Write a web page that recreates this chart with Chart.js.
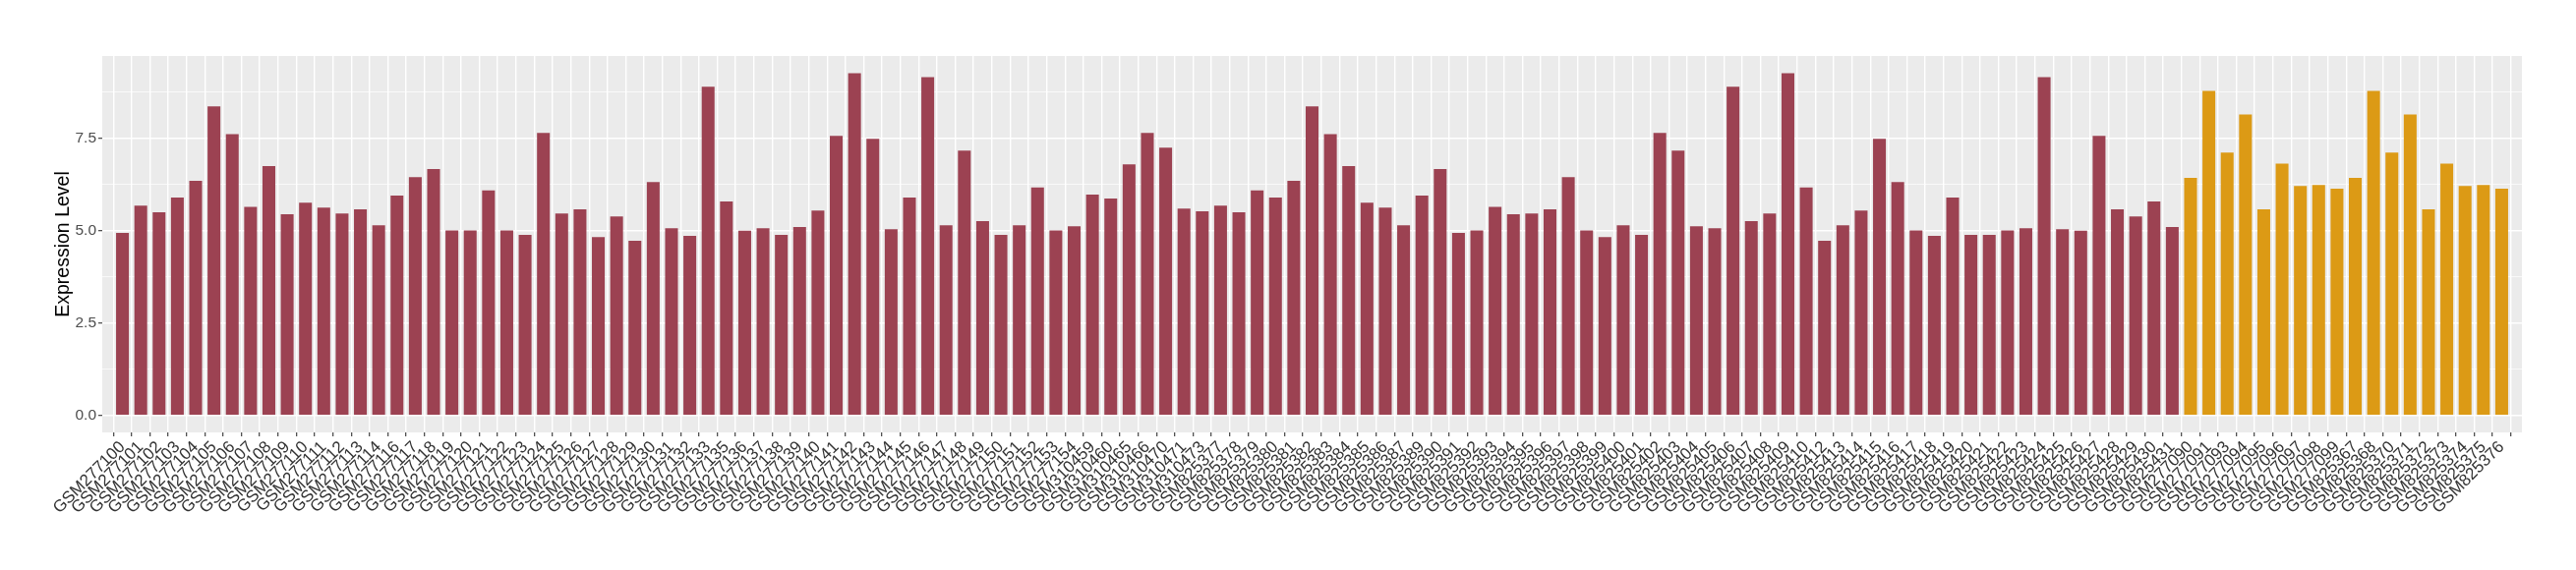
<!DOCTYPE html>
<html>
<head>
<meta charset="utf-8">
<script src="https://cdn.jsdelivr.net/npm/chart.js@4.4.0/dist/chart.umd.min.js"></script>
<style>
  html, body { margin: 0; padding: 0; background: #ffffff; }
  canvas { display: block; }
</style>
</head>
<body>
<canvas id="exprChart" width="2620" height="580"></canvas>
<script>
// sample ids, in plotting order
const samples = [
  'GSM277100', 'GSM277101', 'GSM277102', 'GSM277103', 'GSM277104', 'GSM277105', 'GSM277106', 'GSM277107',
  'GSM277108', 'GSM277109', 'GSM277110', 'GSM277111', 'GSM277112', 'GSM277113', 'GSM277114', 'GSM277116',
  'GSM277117', 'GSM277118', 'GSM277119', 'GSM277120', 'GSM277121', 'GSM277122', 'GSM277123', 'GSM277124',
  'GSM277125', 'GSM277126', 'GSM277127', 'GSM277128', 'GSM277129', 'GSM277130', 'GSM277131', 'GSM277132',
  'GSM277133', 'GSM277135', 'GSM277136', 'GSM277137', 'GSM277138', 'GSM277139', 'GSM277140', 'GSM277141',
  'GSM277142', 'GSM277143', 'GSM277144', 'GSM277145', 'GSM277146', 'GSM277147', 'GSM277148', 'GSM277149',
  'GSM277150', 'GSM277151', 'GSM277152', 'GSM277153', 'GSM277154',
  'GSM310459', 'GSM310460', 'GSM310465', 'GSM310466', 'GSM310470', 'GSM310471', 'GSM310473',
  'GSM825377', 'GSM825378', 'GSM825379', 'GSM825380', 'GSM825381', 'GSM825382', 'GSM825383', 'GSM825384',
  'GSM825385', 'GSM825386', 'GSM825387', 'GSM825389', 'GSM825390', 'GSM825391', 'GSM825392', 'GSM825393',
  'GSM825394', 'GSM825395', 'GSM825396', 'GSM825397', 'GSM825398', 'GSM825399', 'GSM825400', 'GSM825401',
  'GSM825402', 'GSM825403', 'GSM825404', 'GSM825405', 'GSM825406', 'GSM825407', 'GSM825408', 'GSM825409',
  'GSM825410', 'GSM825412', 'GSM825413', 'GSM825414', 'GSM825415', 'GSM825416', 'GSM825417', 'GSM825418',
  'GSM825419', 'GSM825420', 'GSM825421', 'GSM825422', 'GSM825423', 'GSM825424', 'GSM825425', 'GSM825426',
  'GSM825427', 'GSM825428', 'GSM825429', 'GSM825430', 'GSM825431',
  'GSM277090', 'GSM277091', 'GSM277093', 'GSM277094', 'GSM277095', 'GSM277096', 'GSM277097', 'GSM277098',
  'GSM277099',
  'GSM825367', 'GSM825368', 'GSM825370', 'GSM825371', 'GSM825372', 'GSM825373', 'GSM825374', 'GSM825375',
  'GSM825376'
];

const expression = [
  4.94, 5.68, 5.50, 5.90, 6.35, 8.37, 7.62, 5.65,
  6.75, 5.45, 5.76, 5.63, 5.47, 5.58, 5.15, 5.95,
  6.45, 6.67, 5.01, 5.01, 6.09, 5.01, 4.89, 7.65,
  5.47, 5.58, 4.83, 5.39, 4.73, 6.32, 5.07, 4.86,
  8.90, 5.79, 5.00, 5.07, 4.89, 5.10, 5.55, 7.57,
  9.27, 7.49, 5.04, 5.90, 9.16, 5.15, 7.17, 5.26,
  4.89, 5.15, 6.17, 5.01, 5.12,
  5.98, 5.87, 6.80, 7.65, 7.25, 5.60, 5.53,
  5.68, 5.50, 6.09, 5.90, 6.35, 8.37, 7.62, 6.75,
  5.76, 5.63, 5.15, 5.95, 6.67, 4.94, 5.01, 5.65,
  5.45, 5.47, 5.58, 6.45, 5.01, 4.83, 5.15, 4.89,
  7.65, 7.17, 5.12, 5.07, 8.90, 5.26, 5.47, 9.27,
  6.17, 4.73, 5.15, 5.55, 7.49, 6.32, 5.01, 4.86,
  5.90, 4.89, 4.89, 5.01, 5.07, 9.16, 5.04, 5.00,
  7.57, 5.58, 5.39, 5.79, 5.10,
  6.43, 8.79, 7.12, 8.15, 5.58, 6.82, 6.21, 6.24,
  6.14,
  6.43, 8.79, 7.12, 8.15, 5.58, 6.82, 6.21, 6.24,
  6.14
];

// sample group: first 113 in one group, last 18 in the other
const groupSizes = [113, 18];
const groupNames = ['group1', 'group2'];

const yTicks = [0, 2.5, 5, 7.5];

const groupColors = { group1: '#9c4252', group2: '#dc9a15' };

const groups = [];
groupSizes.forEach((n, g) => { for (let i = 0; i < n; i++) groups.push(groupNames[g]); });

const yMax = Math.max(...expression);
const yPad = yMax * 0.05;

const panelBg = {
    id: 'panelBg',
    beforeDraw(chart) {
        const a = chart.chartArea;
        const c = chart.ctx;
        c.save();
        c.fillStyle = '#ebebeb';
        c.fillRect(a.left, a.top, a.right - a.left, a.bottom - a.top);
        c.restore();
    }
};

const isMajor = v => yTicks.some(t => Math.abs(t - v) < 1e-6);

const ctx = document.getElementById('exprChart').getContext('2d');
const exprChart = new Chart(ctx, {
    type: 'bar',
    data: {
        datasets: [{
            data: expression.map((v, i) => ({ x: i, y: v })),
            backgroundColor: groups.map(g => groupColors[g]),
            borderWidth: 0,
            barPercentage: 0.7,
            categoryPercentage: 1.0
        }]
    },
    options: {
        responsive: false,
        animation: false,
        layout: { padding: { top: 57, right: 55, left: 0, bottom: 0 } },
        plugins: {
            legend: { display: false },
            tooltip: { enabled: false }
        },
        scales: {
            x: {
                type: 'linear',
                min: -0.6,
                max: samples.length - 1 + 0.6,
                afterFit(scale) { scale.height = 140; },
                border: { display: false },
                grid: {
                    color: '#ffffff',
                    lineWidth: 1.4,
                    tickColor: '#333333',
                    tickLength: 4,
                    tickWidth: 1.1
                },
                ticks: {
                    stepSize: 1,
                    includeBounds: false,
                    autoSkip: false,
                    minRotation: 45,
                    maxRotation: 45,
                    padding: 1,
                    color: '#333333',
                    font: { family: 'Liberation Sans', size: 17 },
                    callback: v => samples[v] ?? ''
                }
            },
            y: {
                min: -yPad,
                max: yMax + yPad,
                afterFit(scale) { scale.width = 104; },
                border: { display: false },
                grid: {
                    color: '#ffffff',
                    lineWidth: c => isMajor(c.tick.value) ? 1.4 : 0.7,
                    tickColor: c => isMajor(c.tick.value) ? '#333333' : 'rgba(0,0,0,0)',
                    tickLength: 4,
                    tickWidth: 1.1
                },
                ticks: {
                    stepSize: 1.25,
                    includeBounds: false,
                    padding: 2,
                    color: '#4d4d4d',
                    font: { family: 'Liberation Sans', size: 15.5 },
                    callback: v => isMajor(v) ? v.toFixed(1) : ''
                },
                title: {
                    display: true,
                    text: 'Expression Level',
                    color: '#000000',
                    font: { family: 'Liberation Sans', size: 19.5 },
                    padding: { top: 53, bottom: 0 }
                }
            }
        }
    },
    plugins: [panelBg]
});
</script>
</body>
</html>
